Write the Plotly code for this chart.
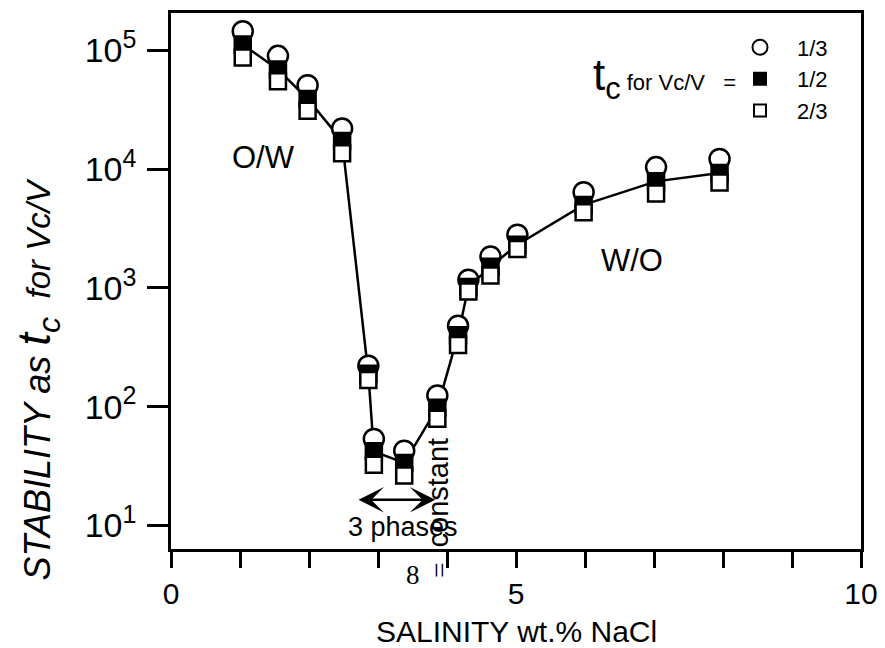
import plotly.graph_objects as go
import math

# ---- data ----
salinity = [1.04, 1.55, 1.98, 2.48, 2.86, 2.94, 3.38, 3.86, 4.16, 4.31, 4.63, 5.02, 5.98, 7.03, 7.95]
tc_13 = [1.45e5, 9.0e4, 5.1e4, 2.2e4, 221, 53.5, 42.6, 124, 481, 1170, 1840, 2800, 6400, 1.04e4, 1.22e4]
tc_12 = [1.12e5, 6.9e4, 3.9e4, 1.73e4, 189, 42, 33.5, 98, 400, 1016, 1510, 2310, 5000, 7890, 9300]
tc_23 = [8.7e4, 5.5e4, 3.1e4, 1.36e4, 168, 32.4, 26.3, 79, 330, 933, 1270, 2130, 4330, 6250, 7730]

series_names = ["1/3", "1/2", "2/3"]
x_tickvals = [0, 5, 10]
x_ticktext = ["0", "5", "10"]
y_tickvals = [10, 100, 1000, 10000, 100000]
y_exponents = ["1", "2", "3", "4", "5"]
y_ticktext = ["10<sup><span style='font-size:25px'>%s</span></sup>" % e for e in y_exponents]

FONT = "Liberation Sans, Arial, Helvetica, sans-serif"
SERIF = "Liberation Serif, Times New Roman, serif"
LW = 2.5

fig = go.Figure()

# guide curve through the 1/2 series
fig.add_trace(go.Scatter(x=salinity, y=tc_12, mode="lines",
                         line=dict(color="black", width=LW), showlegend=False, hoverinfo="skip"))
# data markers
fig.add_trace(go.Scatter(x=salinity, y=tc_13, mode="markers", showlegend=False,
                         marker=dict(symbol="circle", size=20, color="white",
                                     line=dict(color="black", width=LW))))
fig.add_trace(go.Scatter(x=salinity, y=tc_12, mode="markers", showlegend=False,
                         marker=dict(symbol="square", size=16, color="black",
                                     line=dict(color="black", width=LW))))
fig.add_trace(go.Scatter(x=salinity, y=tc_23, mode="markers", showlegend=False,
                         marker=dict(symbol="square", size=16, color="white",
                                     line=dict(color="black", width=LW))))
# legend entries
leg_styles = [("circle", 15, "white"), ("square", 12, "black"), ("square", 12, "white")]
for name, (sym, sz, col) in zip(series_names, leg_styles):
    fig.add_trace(go.Scatter(x=[None], y=[None], mode="markers", name=name,
                             marker=dict(symbol=sym, size=sz, color=col,
                                         line=dict(color="black", width=2))))

ytitle = ("<i><span style='font-size:36px'>STABILITY as </span>"
          "<span style='font-size:46px'>t<sub>c</sub></span>"
          "<span style='font-size:33px'>&nbsp;&nbsp;for Vc/V</span></i>")

annotations = [
    dict(text="O/W", x=1.34, y=math.log10(1.26e4), xref="x", yref="y", showarrow=False,
         font=dict(size=31, family=FONT, color="black")),
    dict(text="W/O", x=6.675, y=math.log10(1695), xref="x", yref="y", showarrow=False,
         font=dict(size=31, family=FONT, color="black")),
    dict(text="3 phases", x=3.365, y=math.log10(9.75), xref="x", yref="y", showarrow=False,
         font=dict(size=27, family=FONT, color="black")),
    dict(text="", x=3.83, y=math.log10(16.4), ax=2.696, ay=math.log10(16.4),
         xref="x", yref="y", axref="x", ayref="y", showarrow=True,
         arrowhead=3, startarrowhead=3, arrowside="end+start", arrowsize=1.7,
         arrowwidth=LW, arrowcolor="black", standoff=0, startstandoff=0),
    dict(text="constant", x=3.874, y=math.log10(19.05), xref="x", yref="y", showarrow=False,
         textangle=-90, font=dict(size=29, family=FONT, color="black")),
    dict(text="8", x=3.507, y=-0.08, xref="x", yref="paper", showarrow=False,
         font=dict(size=27, family=SERIF, color="black")),
    dict(text="=", x=3.878, y=-0.057, xref="x", yref="paper", showarrow=False, textangle=90,
         font=dict(size=27, family=SERIF, color="black")),
    dict(text="<span style='font-size:44px'>t<sub>c</sub></span> for Vc/V   =",
         x=0.822, y=0.879, xref="paper", yref="paper", xanchor="right", yanchor="middle",
         showarrow=False, font=dict(size=22, family=FONT, color="black")),
    # axis titles
    dict(text="SALINITY wt.% NaCl", x=0.5, y=-0.153, xref="paper", yref="paper",
         xanchor="center", yanchor="middle", showarrow=False,
         font=dict(size=30, family=FONT, color="black")),
    dict(text=ytitle, x=-0.193, y=0.316, xref="paper", yref="paper",
         xanchor="center", yanchor="middle", textangle=-90, showarrow=False,
         font=dict(size=36, family=FONT, color="black")),
]

# the page body has an 8px default margin, so the figure is sized 8px smaller
fig.update_layout(
    width=877, height=640,
    margin=dict(l=163, r=24, t=5, b=99),
    paper_bgcolor="white", plot_bgcolor="white",
    font=dict(family=FONT, color="black"),
    annotations=annotations,
    legend=dict(x=0.80, y=0.975, xanchor="left", yanchor="top", itemwidth=64,
                bgcolor="rgba(0,0,0,0)", borderwidth=0,
                font=dict(size=22, family=FONT, color="black")),
    xaxis=dict(range=[0, 10], tickmode="array", tickvals=x_tickvals, ticktext=x_ticktext,
               ticks="outside", ticklen=16, tickwidth=LW, tickcolor="black",
               minor=dict(ticks="outside", ticklen=16, tickwidth=LW, tickcolor="black",
                          dtick=1, showgrid=False),
               showline=True, linewidth=LW, linecolor="black", mirror=True,
               showgrid=False, zeroline=False, automargin=False,
               tickfont=dict(size=30, family=FONT, color="black")),
    yaxis=dict(type="log", range=[0.801, 5.315], tickmode="array",
               tickvals=y_tickvals, ticktext=y_ticktext,
               ticks="outside", ticklen=21, tickwidth=LW, tickcolor="black",
               ticklabelstandoff=4,
               showline=True, linewidth=LW, linecolor="black", mirror=True,
               showgrid=False, zeroline=False, automargin=False,
               tickfont=dict(size=34, family=FONT, color="black")),
)

fig.write_html("out.html")
